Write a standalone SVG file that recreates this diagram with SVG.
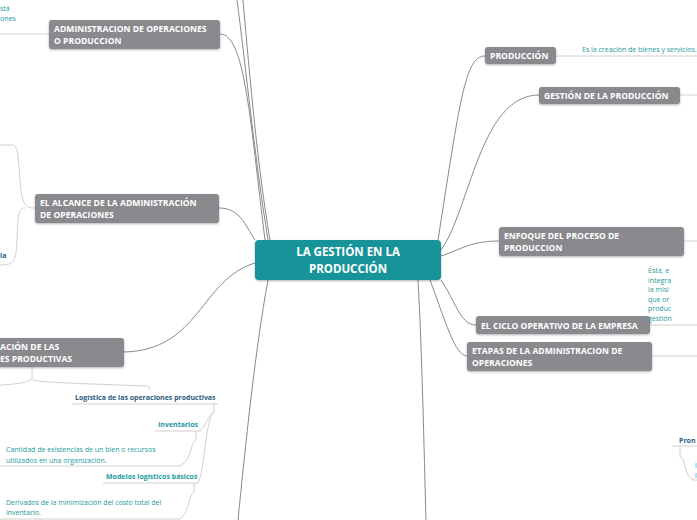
<svg xmlns="http://www.w3.org/2000/svg" width="697" height="520" viewBox="0 0 697 520">
<style>
.n{fill:#8a8a8e;filter:drop-shadow(0 1px 1px rgba(0,0,0,.3))}
.t{font-family:"Open Sans",sans-serif;font-weight:bold;font-size:8.6px;fill:#fff}
.c{fill:none;stroke:#8a8a8e;stroke-width:1}
.l{fill:none;stroke:#d0d0d0;stroke-width:1}
.s{font-family:"Open Sans",sans-serif;font-size:7px;fill:#1b9aa0}
.b{font-family:"Open Sans",sans-serif;font-size:7px;font-weight:bold;fill:#2a5c80}
.bt{font-family:"Open Sans",sans-serif;font-size:7px;font-weight:bold;fill:#1b9aa0}
</style>
<g id="connectors">
<path class="c" d="M220 34 C245 34 250 120 265 240"/>
<path class="c" d="M237 0 C245 60 255 160 268 240"/>
<path class="c" d="M243 0 C250 80 258 170 270 240"/>
<path class="c" d="M219 208 C240 208 245 225 255 240"/>
<path class="c" d="M124 352 C200 350 200 280 255 263"/>
<path class="c" d="M268 280 C255 350 245 450 238 520"/>
<path class="c" d="M418 280 C422 350 424 450 426 520"/>
<path class="c" d="M485 56 C465 56 460 100 438 240"/>
<path class="c" d="M539 95 C480 95 470 210 441 250"/>
<path class="c" d="M499 241 C470 241 460 250 441 256"/>
<path class="c" d="M476 325 C460 325 455 300 441 280"/>
<path class="c" d="M467 356 C455 356 445 320 430 280"/>
<path class="l" d="M0 34 H49"/>
<path class="l" d="M0 145 H12 C18 145 18 155 20 180 C22 205 25 208 35 208 M25 208 C18 208 18 215 17 240 C16 262 14 265 0 265"/>
<path class="l" d="M556 56 H697"/>
<path class="l" d="M680 95 H697"/>
<path class="l" d="M684 241 H697"/>
<path class="l" d="M650 325 H697"/>
<path class="l" d="M652 356 H697"/>
<path class="l" d="M32 367 V378 C32 382 40 382 145 386 C150 386 150 388 150 390 M32 378 C30 382 20 384 0 385"/>
<path class="l" d="M72 404 H218 M214 404 V412 C208 414 210 420 200 431 M155 431 H200 M196 431 V440 C190 443 192 460 180 466 H0 M214 412 C205 420 205 470 198 483 M103 483 H198 M194 483 V492 C188 495 190 512 180 519 H0"/>
<path class="l" d="M672 446 H697 M680 446 V457 C686 458 684 478 694 480 H697"/>
</g>
<g id="n0"><rect x="255" y="240" width="186" height="40" rx="4" fill="#17949a" filter="drop-shadow(0 1px 1px rgba(0,0,0,.3))"/><text x="348" y="256" text-anchor="middle" class="t" style="font-size:11.5px">LA GESTIÓN EN LA</text><text x="348" y="273" text-anchor="middle" class="t" style="font-size:11.5px">PRODUCCIÓN</text></g>
<g id="n1"><rect class="n" x="49" y="20" width="171" height="29" rx="3"/><text class="t" x="54" y="32">ADMINISTRACION DE OPERACIONES</text><text class="t" x="54" y="44">O PRODUCCION</text></g>
<g id="n2"><rect class="n" x="35" y="194" width="184" height="29" rx="3"/><text class="t" x="40" y="206">EL ALCANCE DE LA ADMINISTRACIÓN</text><text class="t" x="40" y="218">DE OPERACIONES</text></g>
<g id="n3"><rect class="n" x="-10" y="338" width="134" height="29" rx="3"/><text class="t" x="0" y="350">ACIÓN DE LAS</text><text class="t" x="0" y="362">ES PRODUCTIVAS</text></g>
<g id="n4"><rect class="n" x="485" y="47" width="71" height="17" rx="3"/><text class="t" x="490" y="59">PRODUCCIÓN</text></g>
<g id="n5"><rect class="n" x="539" y="87" width="141" height="17" rx="3"/><text class="t" x="544" y="99">GESTIÓN DE LA PRODUCCIÓN</text></g>
<g id="n6"><rect class="n" x="499" y="227" width="185" height="29" rx="3"/><text class="t" x="504" y="239">ENFOQUE DEL PROCESO DE</text><text class="t" x="504" y="251">PRODUCCION</text></g>
<g id="n7"><rect class="n" x="476" y="316" width="174" height="18" rx="3"/><text class="t" x="481" y="328.5">EL CICLO OPERATIVO DE LA EMPRESA</text></g>
<g id="n8"><rect class="n" x="467" y="342" width="185" height="29" rx="3"/><text class="t" x="472" y="354">ETAPAS DE LA ADMINISTRACION DE</text><text class="t" x="472" y="366">OPERACIONES</text></g>
<g id="texts">
<text class="s" x="0" y="11">stá</text><text class="s" x="0" y="21">ones</text>
<text class="b" x="0" y="258">la</text>
<text class="s" x="582" y="52">Es la creación de bienes y servicios.</text>
<text class="s" x="648" y="273">Ésta, e</text><text class="s" x="648" y="282.5">integra</text><text class="s" x="648" y="292">la misi</text><text class="s" x="648" y="301.5">que or</text><text class="s" x="648" y="311">produc</text><text class="s" x="648" y="320.5">gestión</text>
<text class="b" x="679" y="443">Pron</text>
<text class="s" x="695" y="468">l</text><text class="s" x="695" y="478">l</text>
<text class="b" x="75" y="400">Logística de las operaciones productivas</text>
<text class="bt" x="158" y="427">Inventarios</text>
<text class="s" x="6" y="452">Cantidad de existencias de un bien o recursos</text><text class="s" x="6" y="463">utilizados en una organización.</text>
<text class="bt" x="106" y="479">Modelos logísticos básicos</text>
<text class="s" x="6" y="505">Derivados de la minimización del costo total del</text><text class="s" x="6" y="515">inventario.</text>
</g>
</svg>
